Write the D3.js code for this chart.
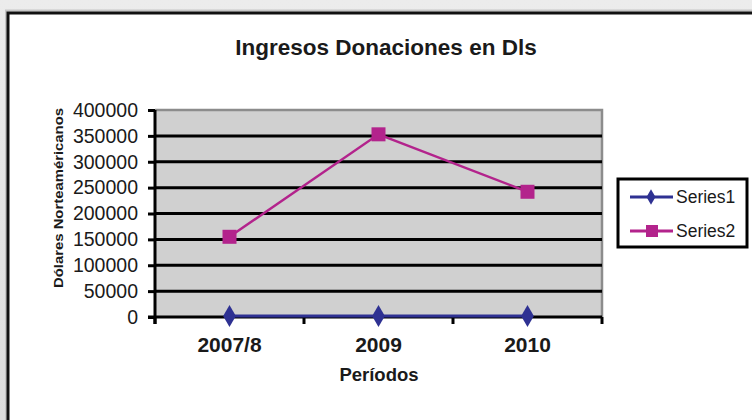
<!DOCTYPE html>
<html>
<head>
<meta charset="utf-8">
<script src="https://cdn.jsdelivr.net/npm/d3@7"></script>
<style>
  body { margin: 0; background: #e4e4e4; }
  svg text { font-family: "Liberation Sans", Arial, sans-serif; fill: #1a1a1a; }
</style>
</head>
<body>
<div id="chart"></div>
<script>
var categories = ["2007/8", "2009", "2010"];
var series1 = [2008, 2009, 2010];
var series2 = [155000, 353000, 242000];
var yTicks = [0, 50000, 100000, 150000, 200000, 250000, 300000, 350000, 400000];
var seriesNames = ["Series1", "Series2"];

function init() {

    var w = 752;
    var h = 420;
    var left = 155, right = 602, top = 110, bottom = 317;

    var col1 = "#2e3192";
    var col2 = "#b3238c";

    var svg = d3.select("#chart")
        .append("svg")
        .attr("width", w)
        .attr("height", h);

    // outer shadow + frame
    var grad = svg.append("defs").append("linearGradient")
        .attr("id", "bg").attr("x1", 0).attr("y1", 0).attr("x2", 0).attr("y2", 1);
    grad.append("stop").attr("offset", "0").attr("stop-color", "#ececec");
    grad.append("stop").attr("offset", "1").attr("stop-color", "#dcdcdc");
    svg.append("rect").attr("width", w).attr("height", h).attr("fill", "url(#bg)");
    svg.append("rect")
        .attr("x", 6).attr("y", 10.5).attr("width", 800).attr("height", 500)
        .attr("fill", "none").attr("stroke", "#c6c6c6").attr("stroke-width", 2);
    svg.append("rect")
        .attr("x", 8).attr("y", 13).attr("width", 800).attr("height", 500)
        .attr("fill", "#fff").attr("stroke", "#111").attr("stroke-width", 3);

    // title
    svg.append("text")
        .attr("x", 386).attr("y", 55)
        .attr("text-anchor", "middle")
        .style("font-size", "22.5px").style("font-weight", "bold")
        .text("Ingresos Donaciones en Dls");

    var xScale = d3.scaleBand()
        .domain(categories)
        .range([left, right]);

    var yScale = d3.scaleLinear()
        .domain([0, 400000])
        .range([bottom, top]);

    // plot area
    svg.append("rect")
        .attr("x", left).attr("y", top)
        .attr("width", right - left).attr("height", bottom - top)
        .attr("fill", "#d0d0d0");
    svg.append("path")
        .attr("d", "M" + left + "," + top + "H" + right + "V" + bottom)
        .attr("fill", "none").attr("stroke", "#8c8c8c").attr("stroke-width", 2.5);

    // gridlines
    svg.selectAll(".grid")
        .data(yTicks.filter(function(d) { return d > 0 && d < 400000; }))
        .enter().append("line")
        .attr("x1", left).attr("x2", right)
        .attr("y1", function(d) { return yScale(d); })
        .attr("y2", function(d) { return yScale(d); })
        .attr("stroke", "#000").attr("stroke-width", 3);

    // axes
    var yAxis = d3.axisLeft(yScale)
        .tickValues(yTicks)
        .tickSize(7)
        .tickPadding(10)
        .tickFormat(d3.format("d"));

    var gy = svg.append("g")
        .attr("transform", "translate(" + left + ",0)")
        .call(yAxis);
    gy.select(".domain").attr("stroke", "#000").attr("stroke-width", 3)
        .attr("d", "M0," + top + "V" + (bottom + 7));
    gy.selectAll(".tick line").attr("stroke", "#000").attr("stroke-width", 3);
    gy.selectAll(".tick text")
        .style("font-size", "19.5px").style("font-family", "Liberation Sans, Arial")
        .attr("fill", "#1a1a1a");

    var xAxis = d3.axisBottom(xScale).tickSize(0).tickPadding(20);
    var gx = svg.append("g")
        .attr("transform", "translate(0," + bottom + ")")
        .call(xAxis);
    gx.select(".domain").attr("stroke", "#000").attr("stroke-width", 3)
        .attr("d", "M" + (left - 7) + ",0H" + right);
    gx.selectAll(".tick text")
        .style("font-size", "21px").style("font-weight", "bold")
        .style("font-family", "Liberation Sans, Arial")
        .attr("fill", "#1a1a1a");

    // category boundary ticks
    var bounds = categories.map(function(c) { return xScale(c); }).concat([right]);
    svg.selectAll(".xtick")
        .data(bounds)
        .enter().append("line")
        .attr("x1", function(d) { return d; }).attr("x2", function(d) { return d; })
        .attr("y1", bottom).attr("y2", bottom + 7)
        .attr("stroke", "#000").attr("stroke-width", 3);

    // axis titles
    svg.append("text")
        .attr("x", 379).attr("y", 381)
        .attr("text-anchor", "middle")
        .style("font-size", "18.5px").style("font-weight", "bold")
        .text("Períodos");

    svg.append("text")
        .attr("transform", "translate(63,198) rotate(-90)")
        .attr("text-anchor", "middle")
        .attr("textLength", 180).attr("lengthAdjust", "spacingAndGlyphs")
        .style("font-size", "12.5px").style("font-weight", "bold")
        .text("Dólares Norteaméricanos");

    // lines
    var cx = function(d, i) { return xScale(categories[i]) + xScale.bandwidth() / 2; };
    var line = d3.line()
        .x(cx)
        .y(function(d) { return yScale(d); });

    svg.append("path").datum(series1)
        .attr("d", line).attr("fill", "none")
        .attr("stroke", col1).attr("stroke-width", 3);
    svg.append("path").datum(series2)
        .attr("d", line).attr("fill", "none")
        .attr("stroke", col2).attr("stroke-width", 2.5);

    var diamond = d3.symbol().type(d3.symbolDiamond).size(140);
    svg.selectAll(".m1").data(series1).enter().append("path")
        .attr("d", diamond)
        .attr("transform", function(d, i) { return "translate(" + cx(d, i) + "," + yScale(d) + ")"; })
        .attr("fill", col1);

    svg.selectAll(".m2").data(series2).enter().append("rect")
        .attr("x", function(d, i) { return cx(d, i) - 7; })
        .attr("y", function(d) { return yScale(d) - 7; })
        .attr("width", 14).attr("height", 14)
        .attr("fill", col2);

    // legend
    var lg = svg.append("g");
    lg.append("rect")
        .attr("x", 618).attr("y", 179).attr("width", 129).attr("height", 68)
        .attr("fill", "#fff").attr("stroke", "#000").attr("stroke-width", 3);
    var rows = [197, 231];
    var cols = [col1, col2];
    seriesNames.forEach(function(name, i) {
        lg.append("line")
            .attr("x1", 630).attr("x2", 673)
            .attr("y1", rows[i]).attr("y2", rows[i])
            .attr("stroke", cols[i]).attr("stroke-width", 3);
        if (i === 0) {
            lg.append("path")
                .attr("d", d3.symbol().type(d3.symbolDiamond).size(70))
                .attr("transform", "translate(651," + rows[i] + ")")
                .attr("fill", cols[i]);
        } else {
            lg.append("rect")
                .attr("x", 646).attr("y", rows[i] - 6)
                .attr("width", 12).attr("height", 12)
                .attr("fill", cols[i]);
        }
        lg.append("text")
            .attr("x", 676).attr("y", rows[i] + 6)
            .style("font-size", "17.5px")
            .text(name);
    });
}
window.onload = init;
</script>
</body>
</html>
